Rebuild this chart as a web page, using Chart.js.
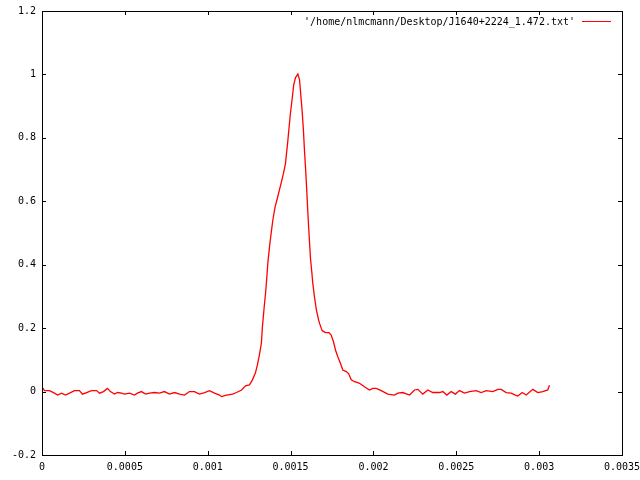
<!DOCTYPE html>
<html>
<head>
<meta charset="utf-8">
<script src="https://cdn.jsdelivr.net/npm/chart.js@4/dist/chart.umd.min.js"></script>
<style>
  html, body { margin: 0; padding: 0; background: #fff; }
  #wrap { width: 640px; height: 480px; }
</style>
</head>
<body>
<div id="wrap"><canvas id="plot"></canvas></div>
<script>
// values
var seriesLabel = "'/home/nlmcmann/Desktop/J1640+2224_1.472.txt'";
var xValues = [
  0.000001, 0.000015, 0.000045, 0.000075, 0.000094, 0.000118, 0.000142, 0.000166, 0.000196, 0.000226,
  0.000244, 0.000269, 0.000299, 0.000329, 0.000347, 0.000371, 0.000395, 0.000413, 0.000437, 0.000456,
  0.000480, 0.000498, 0.000528, 0.000558, 0.000576, 0.000600, 0.000625, 0.000649, 0.000679, 0.000709,
  0.000739, 0.000769, 0.000800, 0.000830, 0.000860, 0.000890, 0.000920, 0.000950, 0.000981, 0.001011,
  0.001041, 0.001071, 0.001083, 0.001113, 0.001150, 0.001174, 0.001204, 0.001228, 0.001252, 0.001270,
  0.001288, 0.001300, 0.001312, 0.001324, 0.001330, 0.001340, 0.001349, 0.001356, 0.001363, 0.001373,
  0.001383, 0.001393, 0.001407, 0.001423, 0.001443, 0.001457, 0.001469, 0.001483, 0.001498, 0.001510,
  0.001519, 0.001530, 0.001544, 0.001554, 0.001560, 0.001570, 0.001578, 0.001584, 0.001591, 0.001598,
  0.001604, 0.001610, 0.001616, 0.001620, 0.001628, 0.001634, 0.001644, 0.001656, 0.001669, 0.001675,
  0.001685, 0.001691, 0.001711, 0.001731, 0.001745, 0.001759, 0.001771, 0.001785, 0.001801, 0.001815,
  0.001836, 0.001851, 0.001866, 0.001886, 0.001906, 0.001916, 0.001946, 0.001976, 0.001996, 0.002017,
  0.002047, 0.002087, 0.002127, 0.002147, 0.002177, 0.002218, 0.002248, 0.002268, 0.002298, 0.002328,
  0.002358, 0.002399, 0.002419, 0.002443, 0.002469, 0.002495, 0.002519, 0.002550, 0.002580, 0.002620,
  0.002650, 0.002681, 0.002720, 0.002751, 0.002771, 0.002801, 0.002831, 0.002857, 0.002871, 0.002898,
  0.002922, 0.002962, 0.002992, 0.003022, 0.003052, 0.003059, 0.003063
];
var yValues = [
  0.014, 0.003, 0.003, -0.005, -0.011, -0.005, -0.011, -0.005, 0.003, 0.003,
  -0.008, -0.003, 0.003, 0.003, -0.005, 0.000, 0.010, 0.000, -0.008, -0.003,
  -0.005, -0.008, -0.005, -0.011, -0.005, 0.000, -0.008, -0.005, -0.003, -0.005,
  0.000, -0.008, -0.003, -0.008, -0.011, 0.000, 0.000, -0.008, -0.003, 0.003,
  -0.005, -0.011, -0.016, -0.011, -0.008, -0.003, 0.005, 0.018, 0.021, 0.037,
  0.059, 0.084, 0.116, 0.153, 0.204, 0.262, 0.310, 0.355, 0.406, 0.457,
  0.500, 0.541, 0.583, 0.615, 0.657, 0.688, 0.718, 0.788, 0.872, 0.925,
  0.967, 0.990, 1.001, 0.983, 0.946, 0.883, 0.820, 0.759, 0.699, 0.630,
  0.567, 0.510, 0.457, 0.420, 0.378, 0.342, 0.299, 0.257, 0.226, 0.215,
  0.200, 0.192, 0.186, 0.186, 0.178, 0.157, 0.131, 0.110, 0.089, 0.068,
  0.063, 0.056, 0.037, 0.031, 0.028, 0.026, 0.015, 0.005, 0.010, 0.010,
  0.003, -0.008, -0.011, -0.005, -0.003, -0.011, 0.005, 0.007, -0.008, 0.005,
  -0.003, -0.003, 0.000, -0.011, 0.000, -0.008, 0.003, -0.005, 0.000, 0.003,
  -0.003, 0.003, 0.000, 0.007, 0.007, -0.003, -0.005, -0.011, -0.014, -0.003,
  -0.011, 0.007, -0.003, 0.000, 0.005, 0.015, 0.020
];
var xTicks = [0, 0.0005, 0.001, 0.0015, 0.002, 0.0025, 0.003, 0.0035];
var yTicks = [-0.2, 0, 0.2, 0.4, 0.6, 0.8, 1, 1.2];

var monoFont = { family: "'DejaVu Sans Mono', 'Liberation Mono', monospace", size: 10 };

var points = xValues.map(function (x, i) { return { x: x, y: yValues[i] }; });

// gnuplot style frame, inward ticks on all four sides, key in the top right corner
var framePlugin = {
  id: 'frame',
  afterDraw: function (chart) {
    var ctx = chart.ctx, a = chart.chartArea;
    var xs = chart.scales.x, ys = chart.scales.y;
    var tl = 4;
    ctx.save();
    ctx.strokeStyle = '#000';
    ctx.lineWidth = 1;
    ctx.strokeRect(a.left + 0.5, a.top + 0.5, a.right - a.left, a.bottom - a.top);
    ctx.beginPath();
    xTicks.forEach(function (v) {
      var px = Math.round(xs.getPixelForValue(v)) + 0.5;
      ctx.moveTo(px, a.bottom); ctx.lineTo(px, a.bottom - tl);
      ctx.moveTo(px, a.top); ctx.lineTo(px, a.top + tl);
    });
    yTicks.forEach(function (v) {
      var py = Math.round(ys.getPixelForValue(v)) + 0.5;
      ctx.moveTo(a.left, py); ctx.lineTo(a.left + tl, py);
      ctx.moveTo(a.right, py); ctx.lineTo(a.right - tl, py);
    });
    ctx.stroke();

    ctx.font = monoFont.size + 'px ' + monoFont.family;
    ctx.fillStyle = '#000';
    ctx.textAlign = 'right';
    ctx.textBaseline = 'middle';
    ctx.fillText(chart.data.datasets[0].label, 575, 22);
    ctx.strokeStyle = '#ff0000';
    ctx.beginPath();
    ctx.moveTo(582, 21.5); ctx.lineTo(611, 21.5);
    ctx.stroke();
    ctx.restore();
  }
};

new Chart(document.getElementById('plot'), {
  type: 'scatter',
  data: {
    datasets: [{
      label: seriesLabel,
      data: points,
      showLine: true,
      borderColor: '#ff0000',
      backgroundColor: '#ff0000',
      borderWidth: 1.3,
      pointRadius: 0,
      tension: 0
    }]
  },
  options: {
    responsive: true,
    maintainAspectRatio: false,
    animation: false,
    layout: { padding: { top: 11, right: 18, left: 0, bottom: 0 } },
    plugins: { legend: { display: false }, tooltip: { enabled: false } },
    scales: {
      x: {
        type: 'linear', min: 0, max: 0.0035,
        grid: { display: false, drawTicks: false },
        border: { display: false },
        afterFit: function (s) { s.height = 25; s.paddingLeft = 0; s.paddingRight = 0; },
        afterBuildTicks: function (s) { s.ticks = xTicks.map(function (v) { return { value: v }; }); },
        ticks: {
          color: '#000', font: monoFont, padding: 6, maxRotation: 0, autoSkip: false,
          callback: function (v) { return String(Number(v.toFixed(4))); }
        }
      },
      y: {
        type: 'linear', min: -0.2, max: 1.2,
        grid: { display: false, drawTicks: false },
        border: { display: false },
        afterFit: function (s) { s.width = 42; s.paddingTop = 0; s.paddingBottom = 0; },
        afterBuildTicks: function (s) { s.ticks = yTicks.map(function (v) { return { value: v }; }); },
        ticks: {
          color: '#000', font: monoFont, padding: 6, autoSkip: false,
          callback: function (v) { return String(Number(v.toFixed(1))); }
        }
      }
    }
  },
  plugins: [framePlugin]
});
</script>
</body>
</html>
